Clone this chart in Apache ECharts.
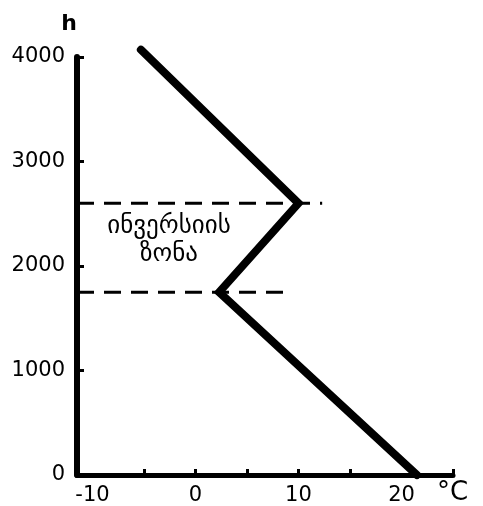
<!DOCTYPE html>
<html>
<head>
<meta charset="utf-8">
<script src="https://cdn.jsdelivr.net/npm/echarts@6/dist/echarts.min.js"></script>
<style>
  html, body { margin: 0; padding: 0; background: #fff; }
  #chart { width: 483px; height: 506px; }
</style>
</head>
<body>
<div id="chart"></div>
<script>
// temperature profile (°C vs height, m)
const tempC = [-5.3, 10, 2.3, 21.5];
const heightM = [4070, 2600, 1750, 0];

// inversion layer boundaries
const inversionTop = 2600;
const inversionBase = 1750;
const inversionTopEnd = 12.3;
const inversionBaseEnd = 8.5;

const xTicks = [-5, 0, 5, 10, 15, 25];
const xLabels = [-10, 0, 10, 20];
const zoneLabel = 'ინვერსიის\nზონა';

const xMin = -11.5;
const xMax = 25;

let chart = echarts.init(document.getElementById('chart'));

const font = 'DejaVu Sans';

chart.setOption({
  animation: false,
  backgroundColor: '#fff',
  grid: { left: 77, right: 30, top: 57, bottom: 31 },
  xAxis: {
    type: 'value',
    min: xMin,
    max: xMax,
    axisLine: { onZero: false, lineStyle: { color: '#000', width: 5 } },
    axisTick: {
      inside: true,
      length: 6,
      customValues: xTicks,
      lineStyle: { color: '#000', width: 3 }
    },
    axisLabel: {
      customValues: xLabels,
      color: '#000',
      fontFamily: font,
      fontSize: 21,
      margin: 10,
      formatter: v => String(v)
    },
    splitLine: { show: false }
  },
  yAxis: {
    type: 'value',
    min: 0,
    max: 4000,
    interval: 1000,
    name: 'h',
    nameGap: 22,
    nameTextStyle: { color: '#000', fontFamily: font, fontSize: 22, fontWeight: 'bold', align: 'right' },
    axisLine: { onZero: false, lineStyle: { color: '#000', width: 6 } },
    axisTick: {
      inside: true,
      length: 7,
      lineStyle: { color: '#000', width: 3 }
    },
    axisLabel: {
      color: '#000',
      fontFamily: font,
      fontSize: 21,
      margin: 12,
      formatter: v => String(v)
    },
    splitLine: { show: false }
  },
  graphic: [
    {
      type: 'text',
      x: 437,
      y: 480,
      style: { text: '°C', fill: '#000', font: '26px ' + font }
    },
    {
      type: 'text',
      x: 169,
      y: 212,
      style: {
        text: zoneLabel,
        fill: '#000',
        font: '25px ' + font,
        align: 'center',
        lineHeight: 28
      }
    }
  ],
  series: [
    {
      type: 'line',
      data: [[xMin, inversionTop], [inversionTopEnd, inversionTop]],
      symbol: 'none',
      lineStyle: { color: '#000', width: 3, type: [17, 10] }
    },
    {
      type: 'line',
      data: [[xMin, inversionBase], [inversionBaseEnd, inversionBase]],
      symbol: 'none',
      lineStyle: { color: '#000', width: 3, type: [17, 10] }
    },
    {
      type: 'line',
      data: tempC.map((t, i) => [t, heightM[i]]),
      symbol: 'none',
      clip: false,
      lineStyle: { color: '#000', width: 8, cap: 'round', join: 'miter' }
    }
  ]
});
</script>
</body>
</html>
